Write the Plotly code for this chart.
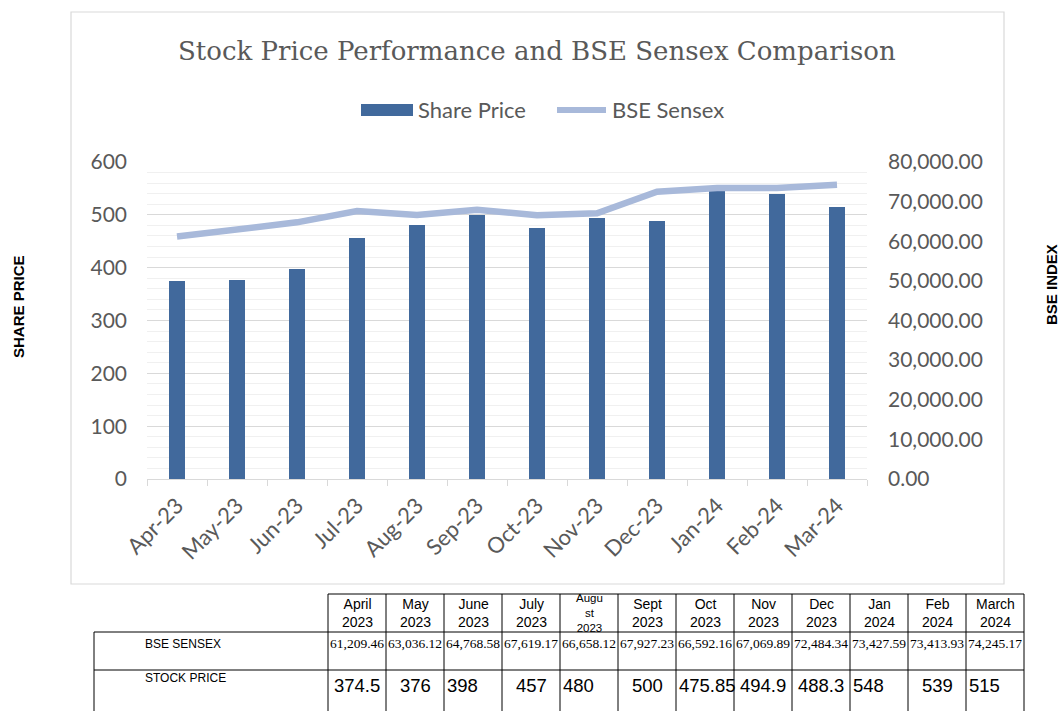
import plotly.graph_objects as go

# ---------------- data ----------------
months = ["Apr-23", "May-23", "Jun-23", "Jul-23", "Aug-23", "Sep-23",
          "Oct-23", "Nov-23", "Dec-23", "Jan-24", "Feb-24", "Mar-24"]
share_price = [374.5, 376, 398, 457, 480, 500, 475.85, 494.9, 488.3, 548, 539, 515]
bse_sensex = [61209.46, 63036.12, 64768.58, 67619.17, 66658.12, 67927.23,
              66592.16, 67069.89, 72484.34, 73427.59, 73413.93, 74245.17]
table_headers = [["April", "2023"], ["May", "2023"], ["June", "2023"], ["July", "2023"],
                 ["Augu", "st", "2023"], ["Sept", "2023"], ["Oct", "2023"], ["Nov", "2023"],
                 ["Dec", "2023"], ["Jan", "2024"], ["Feb", "2024"], ["March", "2024"]]
table_bse_text = ["61,209.46", "63,036.12", "64,768.58", "67,619.17", "66,658.12", "67,927.23",
                  "66,592.16", "67,069.89", "72,484.34", "73,427.59", "73,413.93", "74,245.17"]
table_stock_text = ["374.5", "376", "398", "457", "480", "500",
                    "475.85", "494.9", "488.3", "548", "539", "515"]
row_labels = ["BSE SENSEX", "STOCK PRICE"]

# ---------------- styles / layout geometry ----------------
W, H = 1059, 711
PL, PR, PT, PB = 147, 867, 162, 479          # plot area in pixels
BAR_COLOR = "#41699C"
LINE_COLOR = "#A8B9DA"
TEXT_GRAY = "#595959"
stock_align = ["center", "center", "left", "center", "left", "center",
               "left", "center", "center", "left", "center", "left"]


def px(x):
    return (x - PL) / (PR - PL)


def py(y):
    return (PB - y) / (PB - PT)


fig = go.Figure()
fig.add_trace(go.Bar(x=months, y=share_price, name="Share Price",
                     marker=dict(color=BAR_COLOR, line=dict(width=0)),
                     width=0.27, yaxis="y", showlegend=False))
fig.add_trace(go.Scatter(x=months, y=bse_sensex, name="BSE Sensex", mode="lines",
                         line=dict(color=LINE_COLOR, width=6.5), yaxis="y2",
                         showlegend=False))

shapes = []
annotations = []

# chart border
shapes.append(dict(type="rect", xref="paper", yref="paper", layer="below",
                   x0=px(71), x1=px(1004), y0=py(12), y1=py(584),
                   line=dict(color="#D9D9D9", width=1.2), fillcolor="rgba(0,0,0,0)"))

# title
annotations.append(dict(text="Stock Price Performance and BSE Sensex Comparison",
                        xref="paper", yref="paper", x=px(537), y=py(51),
                        xanchor="center", yanchor="middle", showarrow=False,
                        font=dict(family="DejaVu Serif", size=26, color=TEXT_GRAY)))

# manual legend
shapes.append(dict(type="rect", xref="paper", yref="paper",
                   x0=px(361), x1=px(413), y0=py(116), y1=py(104),
                   fillcolor=BAR_COLOR, line=dict(width=0)))
shapes.append(dict(type="line", xref="paper", yref="paper",
                   x0=px(557), x1=px(606), y0=py(110), y1=py(110),
                   line=dict(color=LINE_COLOR, width=6)))
annotations.append(dict(text="Share Price", xref="paper", yref="paper",
                        x=px(416), y=py(110), xanchor="left", yanchor="middle",
                        showarrow=False, font=dict(family="Lato", size=22, color=TEXT_GRAY)))
annotations.append(dict(text="BSE Sensex", xref="paper", yref="paper",
                        x=px(610), y=py(110), xanchor="left", yanchor="middle",
                        showarrow=False, font=dict(family="Lato", size=22, color=TEXT_GRAY)))

# axis titles
annotations.append(dict(text="<b>SHARE PRICE</b>", xref="paper", yref="paper",
                        x=px(18), y=py(307), xanchor="center", yanchor="middle",
                        textangle=-90, showarrow=False,
                        font=dict(family="Liberation Sans", size=15, color="#000000")))
annotations.append(dict(text="<b>BSE INDEX</b>", xref="paper", yref="paper",
                        x=px(1051), y=py(285), xanchor="center", yanchor="middle",
                        textangle=-90, showarrow=False,
                        font=dict(family="Liberation Sans", size=15, color="#000000")))

# ---------------- table below chart ----------------
col_x = [328 + i * 58 for i in range(13)]
row_y = [594, 632, 670, 713]
black = dict(color="#000000", width=1)
shapes.append(dict(type="line", xref="paper", yref="paper", x0=px(col_x[0]), x1=px(col_x[-1]),
                   y0=py(row_y[0]), y1=py(row_y[0]), line=black))
for yy in row_y[1:3]:
    shapes.append(dict(type="line", xref="paper", yref="paper", x0=px(94), x1=px(col_x[-1]),
                       y0=py(yy), y1=py(yy), line=black))
shapes.append(dict(type="line", xref="paper", yref="paper", x0=px(94), x1=px(94),
                   y0=py(row_y[1]), y1=py(row_y[3]), line=black))
for xx in col_x:
    shapes.append(dict(type="line", xref="paper", yref="paper", x0=px(xx), x1=px(xx),
                       y0=py(row_y[0]), y1=py(row_y[3]), line=black))

for i, lines in enumerate(table_headers):
    cx = (col_x[i] + col_x[i + 1]) / 2
    fs = 14 if len(lines) == 2 else 11.5
    annotations.append(dict(text="<br>".join(lines), xref="paper", yref="paper", x=px(cx),
                            y=py(613), xanchor="center", yanchor="middle",
                            showarrow=False,
                            font=dict(family="Liberation Sans", size=fs, color="#000000")))
    annotations.append(dict(text=table_bse_text[i], xref="paper", yref="paper", x=px(cx),
                            y=py(643), xanchor="center", yanchor="middle", showarrow=False,
                            font=dict(family="Liberation Serif", size=13.5, color="#000000")))
    al = stock_align[i]
    sx = cx if al == "center" else col_x[i] + 1
    annotations.append(dict(text=table_stock_text[i], xref="paper", yref="paper", x=px(sx),
                            y=py(685), xanchor=al, yanchor="middle", showarrow=False,
                            font=dict(family="Liberation Sans", size=18.5, color="#000000")))

for lab, yy in zip(row_labels, [644, 678]):
    annotations.append(dict(text=lab, xref="paper", yref="paper", x=px(143), y=py(yy),
                            xanchor="left", yanchor="middle", showarrow=False,
                            font=dict(family="Liberation Sans", size=12, color="#000000")))

fig.update_layout(
    width=W, height=H,
    margin=dict(l=PL, r=W - PR, t=PT, b=H - PB, pad=0),
    paper_bgcolor="white", plot_bgcolor="white",
    bargap=0,
    xaxis=dict(type="category", showline=True, linecolor="#D9D9D9", linewidth=1.2,
               ticks="outside", tickson="boundaries", ticklen=6, tickcolor="#D9D9D9",
               tickangle=-45, tickfont=dict(family="Lato", size=22, color=TEXT_GRAY),
               showgrid=False, zeroline=False, ticklabelstandoff=4),
    yaxis=dict(range=[0, 600], dtick=100, showgrid=True, gridcolor="#D9D9D9", gridwidth=1.3,
               minor=dict(dtick=20, showgrid=True, gridcolor="#F0F0F0", gridwidth=1.3),
               zeroline=False, showline=False, ticks="",
               tickfont=dict(family="Lato", size=21, color=TEXT_GRAY), ticklabelstandoff=19),
    yaxis2=dict(range=[0, 80000], dtick=10000, overlaying="y", side="right",
                tickformat=",.2f", showgrid=False, zeroline=False, showline=False, ticks="",
                tickfont=dict(family="Lato", size=21, color=TEXT_GRAY), ticklabelstandoff=20),
    shapes=shapes,
    annotations=annotations,
    showlegend=False,
)

fig.write_html("out.html", config={"displayModeBar": False},
               post_script="document.body.style.margin='0';document.body.style.overflow='hidden';")
